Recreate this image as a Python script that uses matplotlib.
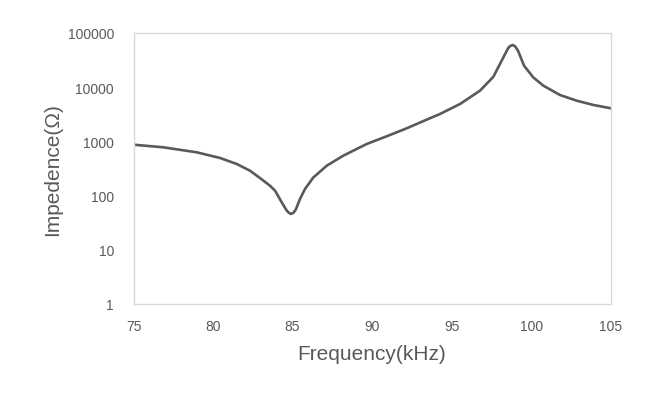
import matplotlib
matplotlib.use("Agg")
import matplotlib.pyplot as plt
from matplotlib.ticker import FixedLocator, FixedFormatter, NullLocator

freq_khz = [75.0, 76.87, 78.97, 80.44, 81.49, 82.32, 82.95, 83.58, 83.9, 84.32,
            84.63, 84.77, 84.9, 85.05, 85.2, 85.47, 85.78, 86.3, 87.15, 88.19,
            89.66, 90.92, 92.18, 93.53, 94.27, 95.53, 96.78, 97.62, 98.15, 98.56,
            98.7, 98.85, 99.0, 99.19, 99.55, 100.13, 100.76, 101.81, 102.86, 103.91,
            105.0]
impedance = [869, 778, 629, 494, 383, 288, 211, 152, 123, 75,
             53, 48, 46, 48, 55, 87, 132, 215, 356, 545,
             895, 1242, 1745, 2590, 3205, 4900, 8610, 15500, 31000, 53000,
             58000, 60000, 56500, 46000, 25000, 15200, 10700, 7180, 5640, 4700,
             4080]

y_ticks = [1, 10, 100, 1000, 10000, 100000]
y_tick_labels = ["1", "10", "100", "1000", "10000", "100000"]
x_ticks = [75, 80, 85, 90, 95, 100, 105]
x_tick_labels = ["75", "80", "85", "90", "95", "100", "105"]

plt.rcParams['font.family'] = ['Liberation Sans', 'DejaVu Sans']

fig = plt.figure(figsize=(6.57, 4.06), dpi=100)
ax = fig.add_axes([0.2032, 0.2488, 0.7263, 0.6675])
ax.plot(freq_khz, impedance, color="#595959", lw=1.9,
        solid_joinstyle="round", solid_capstyle="round")
ax.set_yscale("log")
ax.set_xlim(75, 105)
ax.set_ylim(1, 100000)
ax.yaxis.set_major_locator(FixedLocator(y_ticks))
ax.yaxis.set_major_formatter(FixedFormatter(y_tick_labels))
ax.yaxis.set_minor_locator(NullLocator())
ax.set_xticks(x_ticks)
ax.set_xticklabels(x_tick_labels)
ax.tick_params(axis="both", length=0, labelsize=10, labelcolor="#595959")
ax.tick_params(axis="y", pad=14)
ax.tick_params(axis="x", pad=11)
for s in ax.spines.values():
    s.set_color("#d9d9d9")
    s.set_linewidth(1.0)
ax.set_ylabel("Impedence(Ω)", fontsize=15, color="#595959", labelpad=4)
ax.set_xlabel("Frequency(kHz)", fontsize=15, color="#595959", labelpad=8)
fig.savefig("out.png", dpi=100)
